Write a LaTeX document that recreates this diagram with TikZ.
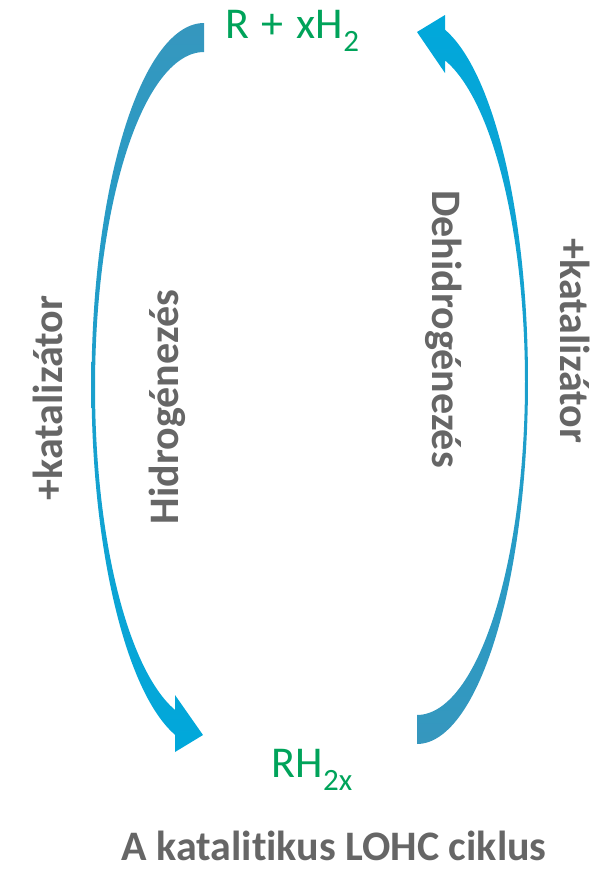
\documentclass[tikz,border=0pt]{standalone}
\usepackage{fontspec}
\setmainfont{Carlito}[Ligatures=NoCommon]
\definecolor{arrowdark}{RGB}{54,151,190}
\definecolor{arrowcyan}{RGB}{0,168,219}
\definecolor{chemgreen}{RGB}{0,163,90}
\definecolor{labelgray}{RGB}{102,102,102}
\newcommand{\chemsub}[1]{\raisebox{-0.3em}{\fontsize{31}{31}\selectfont #1}}
\tikzset{
  chem/.style={text=chemgreen, inner sep=0pt, font=\fontsize{44}{44}\selectfont},
  proc/.style={text=labelgray, inner sep=0pt, font=\bfseries\fontsize{42}{42}\selectfont},
  title/.style={text=labelgray, inner sep=0pt, font=\bfseries\fontsize{42}{42}\selectfont},
}
\begin{document}
\begin{tikzpicture}[x=1pt, y=-1pt]
\useasboundingbox (0,0) rectangle (605,870);

% hydrogenation arrow: wide tail at the top, head at the lower right
\shade[top color=arrowdark, middle color=arrowcyan, bottom color=arrowcyan]
  plot[domain=270:104.94, samples=120] ({204+112.5*cos(\x)},{385+362*sin(\x)})
  -- (175,752) -- (203,735) -- (175,695)
  -- plot[domain=105.43:270, samples=120] ({204+109*cos(\x)},{387+335*sin(\x)})
  -- cycle;

% dehydrogenation arrow: wide tail at the bottom, head at the upper left
\shade[top color=arrowcyan, middle color=arrowcyan, bottom color=arrowdark]
  plot[domain=90:-75.39, samples=120] ({417+111*cos(\x)},{381+363*sin(\x)})
  -- (445,15) -- (417,32) -- (445,73)
  -- plot[domain=-74.97:90, samples=120] ({417+108*cos(\x)},{382+333*sin(\x)})
  -- cycle;

% species
\node[chem, anchor=base] (carrier) at (292,38) {R\hspace{13pt}+\hspace{13pt}xH\chemsub{2}};
\node[chem, anchor=base] (loaded) at (312,777) {RH\chemsub{2x}};

% process labels
\node[proc, rotate=90, anchor=base] (hyd) at (178,407) {Hidrogénezés};
\node[proc, rotate=90, anchor=base] (catl) at (62,398) {+katalizátor};
\node[proc, rotate=-90, anchor=base] (dehyd) at (432,329) {Dehidrogénezés};
\node[proc, rotate=-90, anchor=base] (catr) at (560,341) {+katalizátor};

% caption
\node[title, anchor=base] (caption) at (334,860) {A katalitikus LOHC ciklus};
\end{tikzpicture}
\end{document}
